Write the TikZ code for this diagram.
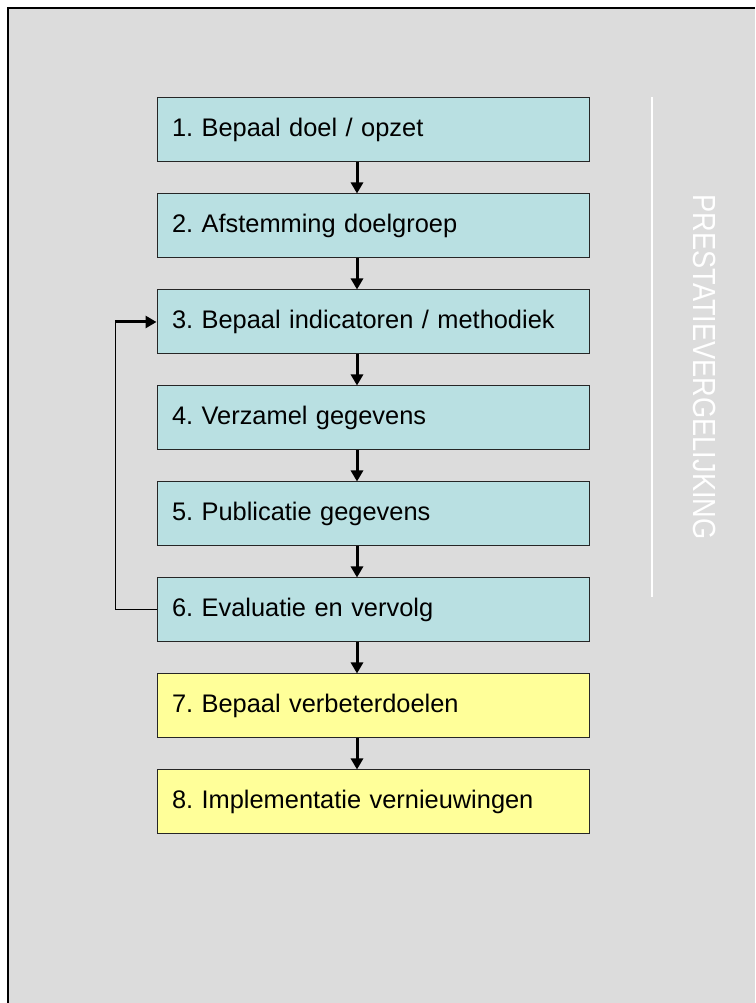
\documentclass[tikz,border=0pt]{standalone}
\usepackage{fontspec}
\setmainfont{Liberation Sans}
\usepackage{xcolor}
\usepackage{tikz}
\usetikzlibrary{positioning}
\usetikzlibrary{arrows.meta}
\definecolor{achter}{HTML}{DCDCDC}
\definecolor{blauw}{HTML}{B9E0E2}
\definecolor{geel}{HTML}{FFFF99}
\tikzset{>={Triangle[length=11pt,width=12pt]}}
\tikzset{
  stap/.style={draw=black!85, line width=1pt, minimum width=432pt, minimum height=64pt,
    text width=402pt, inner xsep=15pt, align=left, font=\fontsize{25.4}{30}\selectfont\frenchspacing},
  pijl/.style={->, line width=3pt}
}

\begin{document}
\begin{tikzpicture}[x=1pt, y=1pt]
    \useasboundingbox (0,0) rectangle (755,1003);
    \fill[white] (0,0) rectangle (755,1003);
    \fill[achter] (8,0) rectangle (755,995);
    \draw[line width=2pt] (8,0) -- (8,995) -- (755,995);

    \node[stap, fill=blauw] at (373,873) (s1) {1. Bepaal doel / opzet};
    \node[stap, fill=blauw, below=31pt of s1] (s2) {2. Afstemming doelgroep};
    \node[stap, fill=blauw, below=31pt of s2] (s3) {3. Bepaal indicatoren / methodiek};
    \node[stap, fill=blauw, below=31pt of s3] (s4) {4. Verzamel gegevens};
    \node[stap, fill=blauw, below=31pt of s4] (s5) {5. Publicatie gegevens};
    \node[stap, fill=blauw, below=31pt of s5] (s6) {6. Evaluatie en vervolg};
    \node[stap, fill=geel, below=31pt of s6] (s7) {7. Bepaal verbeterdoelen};
    \node[stap, fill=geel, below=31pt of s7] (s8) {8. Implementatie vernieuwingen};

    \draw[pijl] (s1.south -| 357,0) -- (s2.north -| 357,0);
    \draw[pijl] (s2.south -| 357,0) -- (s3.north -| 357,0);
    \draw[pijl] (s3.south -| 357,0) -- (s4.north -| 357,0);
    \draw[pijl] (s4.south -| 357,0) -- (s5.north -| 357,0);
    \draw[pijl] (s5.south -| 357,0) -- (s6.north -| 357,0);
    \draw[pijl] (s6.south -| 357,0) -- (s7.north -| 357,0);
    \draw[pijl] (s7.south -| 357,0) -- (s8.north -| 357,0);

    % terugkoppeling van 6 naar 3
    \coordinate (terug) at (s3.west -| 115,0);
    \draw[line width=1pt] (s6.west) -| (terug);
    \draw[pijl] (terug) -- (s3.west);

    % zijbalk
    \coordinate (lijnboven) at (652,906);
    \coordinate (lijnonder) at (652,406);
    \draw[white, line width=1.5pt] (lijnboven) -- (lijnonder);
    \node[rotate=-90, text=white, font=\fontsize{32}{36}\selectfont] at (705,636) (titel)
      {\scalebox{0.85}[1]{PRESTATIEVERGELIJKING}};
\end{tikzpicture}
\end{document}
